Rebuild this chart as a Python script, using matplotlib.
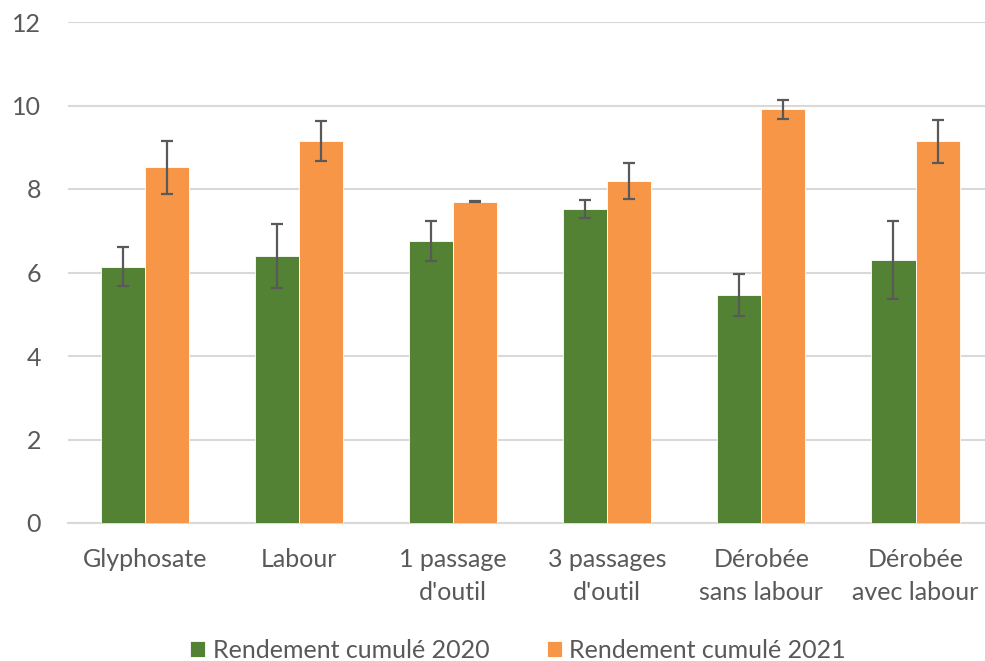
import matplotlib
matplotlib.use("Agg")
import matplotlib.pyplot as plt
import numpy as np

# data
categories = ["Glyphosate", "Labour", "1 passage\nd'outil", "3 passages\nd'outil",
              "Dérobée\nsans labour", "Dérobée\navec labour"]
rendement_2020 = [6.14, 6.40, 6.75, 7.52, 5.46, 6.30]
erreur_2020 = [0.47, 0.77, 0.48, 0.22, 0.50, 0.93]
rendement_2021 = [8.52, 9.14, 7.70, 8.19, 9.91, 9.14]
erreur_2021 = [0.64, 0.48, 0.02, 0.43, 0.23, 0.52]
series_names = ["Rendement cumulé 2020", "Rendement cumulé 2021"]

plt.rcParams['font.family'] = ['Lato', 'DejaVu Sans']
text_color = "#595959"

fig = plt.figure(figsize=(9.85, 6.61), dpi=100)
ax = fig.add_axes([67.6 / 985, 138 / 661, 925 / 985, 501 / 661])

x = np.arange(len(categories))
w = 0.286
err_kw = dict(ecolor="#595959", elinewidth=1.6, capsize=4.3, capthick=1.6)
ax.bar(x - w / 2, rendement_2020, w, yerr=erreur_2020, color="#548235",
       edgecolor="white", linewidth=0.6, label=series_names[0], error_kw=err_kw, zorder=3)
ax.bar(x + w / 2, rendement_2021, w, yerr=erreur_2021, color="#F79646",
       edgecolor="white", linewidth=0.6, label=series_names[1], error_kw=err_kw, zorder=3)

ax.set_xlim(-0.5, len(categories) - 0.5)
ax.set_ylim(0, 12)
ax.set_yticks(np.arange(0, 13, 2))
ax.set_xticks(x)
ax.set_xticklabels(categories, linespacing=1.55)
ax.yaxis.grid(True, color="#d9d9d9", linewidth=1.5, zorder=0)
ax.set_axisbelow(True)
for s in ["top", "right", "left"]:
    ax.spines[s].set_visible(False)
ax.spines["bottom"].set_color("#d9d9d9")
ax.spines["bottom"].set_linewidth(1.5)
ax.tick_params(axis="both", length=0, labelsize=18, colors=text_color)
ax.tick_params(axis="y", pad=19)
ax.tick_params(axis="x", pad=18)

leg = fig.legend(loc="center", bbox_to_anchor=(518 / 985, 1 - 650 / 661), ncol=2,
                 frameon=False, fontsize=18, handlelength=0.6, handleheight=0.6,
                 handletextpad=0.3, columnspacing=2.3, labelcolor=text_color)

fig.savefig("out.png", dpi=100)
